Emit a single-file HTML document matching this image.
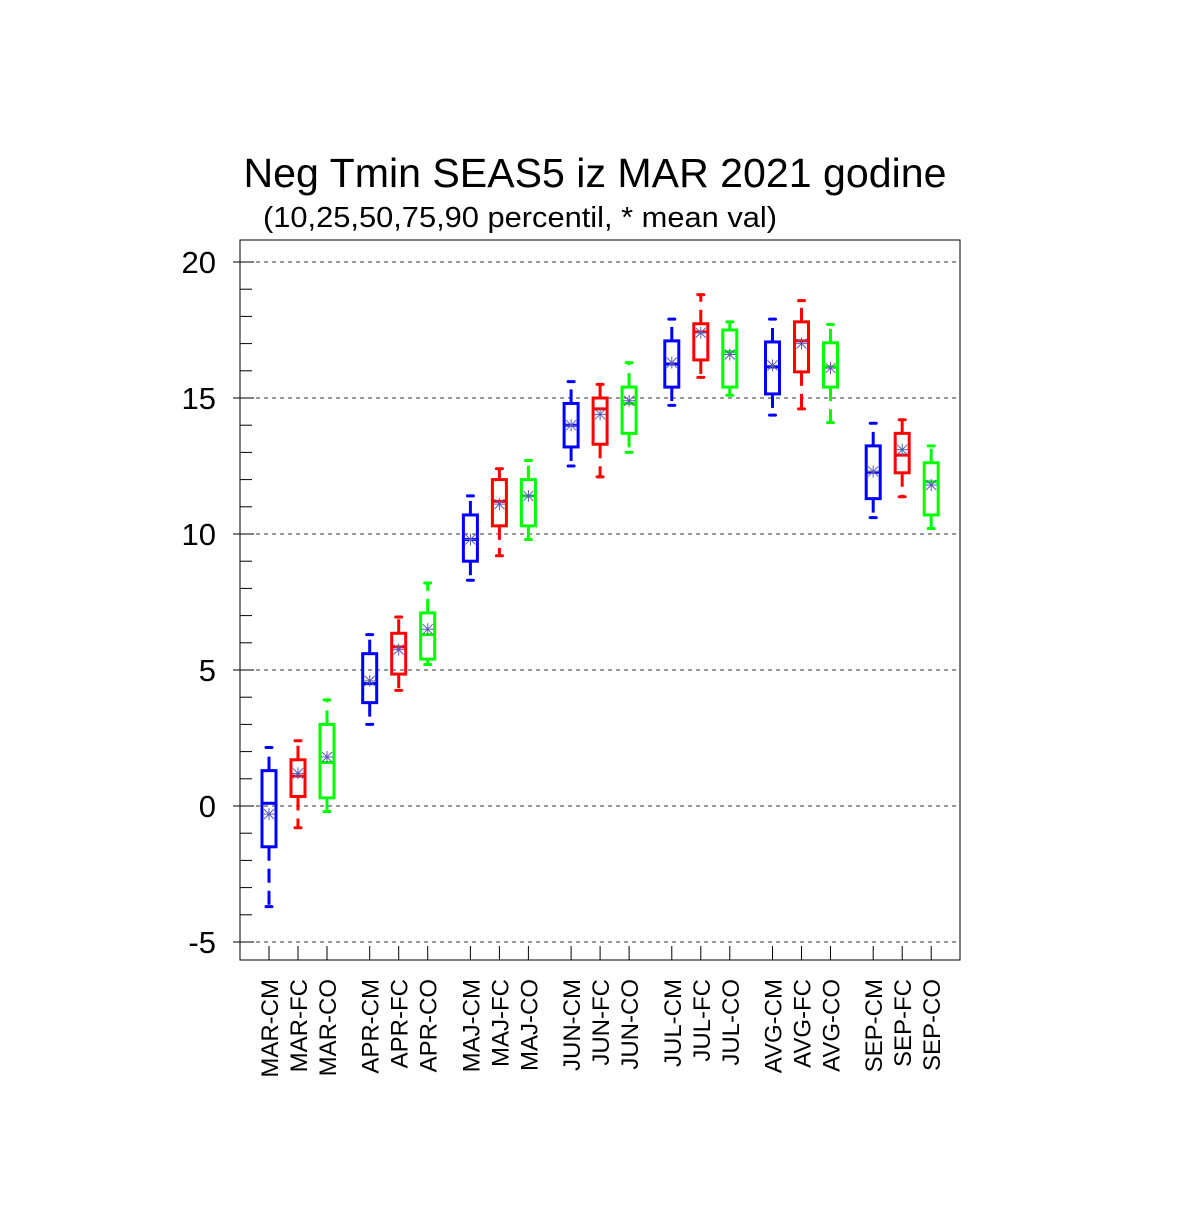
<!DOCTYPE html>
<html><head><meta charset="utf-8"><style>
body{margin:0;background:#fff;}
svg text{font-family:"Liberation Sans",sans-serif;fill:#000;}
</style></head><body>
<svg id="chart" width="1200" height="1200" xmlns="http://www.w3.org/2000/svg">
<rect width="1200" height="1200" fill="#fff"/>
<text x="595" y="187" font-size="41" text-anchor="middle" textLength="703" lengthAdjust="spacingAndGlyphs">Neg Tmin SEAS5 iz MAR 2021 godine</text>
<text x="263" y="227" font-size="29" textLength="514" lengthAdjust="spacingAndGlyphs">(10,25,50,75,90 percentil, * mean val)</text>
<g id="grid"></g>
<g id="marks"></g>
<rect x="240" y="240" width="720" height="720" fill="none" stroke="#000" stroke-width="1"/>
<g id="axes"></g>
</svg>
<script>
const categories=["MAR-CM","MAR-FC","MAR-CO","APR-CM","APR-FC","APR-CO","MAJ-CM","MAJ-FC","MAJ-CO","JUN-CM","JUN-FC","JUN-CO","JUL-CM","JUL-FC","JUL-CO","AVG-CM","AVG-FC","AVG-CO","SEP-CM","SEP-FC","SEP-CO"];
const p10=[-3.7,-0.8,-0.2,3.0,4.25,5.2,8.3,9.2,9.8,12.5,12.1,13.0,14.73,15.76,15.1,14.37,14.6,14.1,10.6,11.37,10.2];
const p25=[-1.5,0.35,0.3,3.8,4.85,5.4,9.0,10.3,10.3,13.2,13.3,13.7,15.4,16.4,15.4,15.15,15.96,15.4,11.3,12.25,10.7];
const p50=[0.1,1.1,1.6,4.5,5.85,6.3,9.8,11.2,11.4,14.0,14.6,14.8,16.25,17.43,16.7,16.14,17.1,16.15,12.27,12.9,11.92];
const p75=[1.3,1.7,3.0,5.6,6.35,7.1,10.7,12.0,12.0,14.8,15.0,15.4,17.1,17.73,17.5,17.06,17.8,17.03,13.24,13.7,12.62];
const p90=[2.15,2.4,3.9,6.3,6.95,8.2,11.4,12.4,12.7,15.6,15.5,16.3,17.9,18.8,17.8,17.9,18.58,17.7,14.07,14.2,13.24];
const means=[-0.3,1.2,1.8,4.6,5.75,6.5,9.8,11.1,11.4,14.0,14.4,14.9,16.3,17.4,16.6,16.2,17.0,16.1,12.3,13.1,11.8];
const yTicks=[-5,0,5,10,15,20];
const colors=["#0000ff","#ff0000","#00ff00"];
const NS="http://www.w3.org/2000/svg";
function y(v){return 806-27.2*v;}
function x(i){return 269+Math.floor(i/3)*100.7+(i%3)*29;}
function mk(tag,attrs,parent){const e=document.createElementNS(NS,tag);for(const k in attrs)e.setAttribute(k,attrs[k]);parent.appendChild(e);return e;}
const grid=document.getElementById('grid'),marks=document.getElementById('marks'),axes=document.getElementById('axes');
for(let v=-5;v<=20;v++){
  const t=mk('line',{x1:240,x2:252,y1:y(v),y2:y(v),stroke:'#000','stroke-width':1},axes);
  
  
}
yTicks.forEach(v=>{
  const g=mk('line',{x1:240,x2:960,y1:y(v),y2:y(v),stroke:'#333','stroke-width':1,'stroke-dasharray':'4 4'},grid);
  
  
  const t=mk('line',{x1:233,x2:254,y1:y(v),y2:y(v),stroke:'#000','stroke-width':1},axes);
  
  
  const l=mk('text',{x:216,y:y(v)+11,'font-size':31,'text-anchor':'end'},axes);
  l.textContent=v;
  
  
});
categories.forEach((c,i)=>{
  const cx=x(i),col=colors[i%3];
  const t=mk('line',{x1:cx,x2:cx,y1:946,y2:960,stroke:'#000','stroke-width':1},axes);
  
  
  const l=mk('text',{x:0,y:0,'font-size':24,'text-anchor':'end',transform:`translate(${cx+9},979) rotate(-90)`},axes);
  l.textContent=c;
  
  
  const g=mk('g',{},marks);
  
  
  mk('line',{x1:cx,x2:cx,y1:y(p75[i]),y2:y(p90[i]),stroke:col,'stroke-width':3,'stroke-dasharray':'14 8'},g);
  mk('line',{x1:cx,x2:cx,y1:y(p25[i]),y2:y(p10[i]),stroke:col,'stroke-width':3,'stroke-dasharray':'14 8'},g);
  mk('line',{x1:cx-3,x2:cx+3,y1:y(p90[i]),y2:y(p90[i]),stroke:col,'stroke-width':3,'stroke-linecap':'round'},g);
  mk('line',{x1:cx-3,x2:cx+3,y1:y(p10[i]),y2:y(p10[i]),stroke:col,'stroke-width':3,'stroke-linecap':'round'},g);
  mk('rect',{x:cx-7,y:y(p75[i]),width:14,height:y(p25[i])-y(p75[i]),fill:'none',stroke:col,'stroke-width':3},g);
  mk('line',{x1:cx-7,x2:cx+7,y1:y(p50[i]),y2:y(p50[i]),stroke:col,'stroke-width':3},g);
  const m=y(means[i]);
  const s=mk('path',{d:`M${cx-6} ${m}H${cx+6}M${cx} ${m-6}V${m+6}M${cx-5} ${m-5}L${cx+5} ${m+5}M${cx-5} ${m+5}L${cx+5} ${m-5}`,stroke:'#5a5ab8','stroke-width':1,fill:'none'},g);
  
  
});
</script>
</body></html>
